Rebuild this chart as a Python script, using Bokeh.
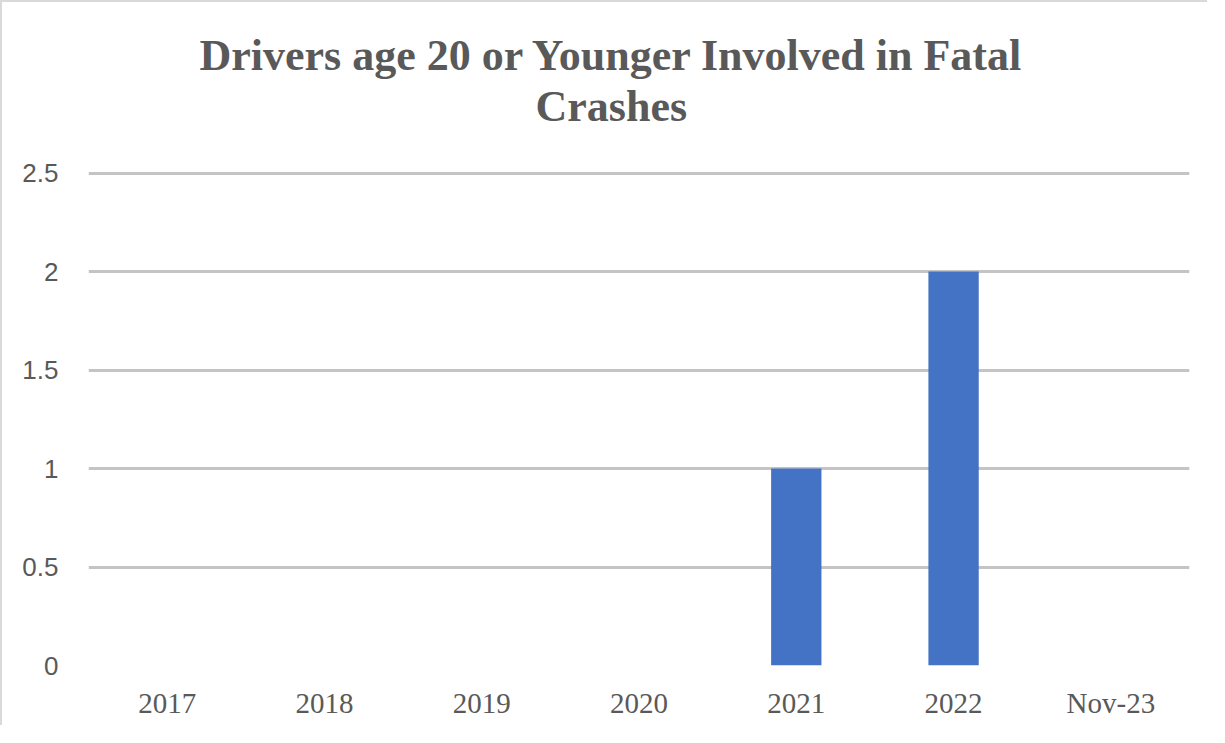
from bokeh.plotting import figure
from bokeh.models import FixedTicker, Title
from bokeh.embed import file_html
from bokeh.resources import INLINE

categories = ["2017", "2018", "2019", "2020", "2021", "2022", "Nov-23"]
values = [0, 0, 0, 0, 1, 2, 0]
y_ticks = [0, 0.5, 1, 1.5, 2, 2.5]
y_tick_labels = ["0", "0.5", "1", "1.5", "2", "2.5"]
title_lines = ["Drivers age 20 or Younger Involved in Fatal", "Crashes"]

p = figure(x_range=categories, y_range=(0, 2.508), width=1207, height=725,
           output_backend="svg", toolbar_location=None,
           min_border_left=86, min_border_right=20, min_border_bottom=62, min_border_top=169)
p.styles = {"border-top": "2px solid #d9d9d9", "border-left": "2px solid #d9d9d9"}
p.outline_line_color = None
p.x_range.range_padding = 0

p.vbar(x=categories, top=values, width=0.32, fill_color="#4472C4", line_color=None)

# titles: second line first (closest to frame)
t2 = Title(text=title_lines[1], align="left", offset=447, standoff=82,
           text_font="Liberation Serif", text_font_size="44px", text_font_style="bold",
           text_color="#595959")
t1 = Title(text=title_lines[0], align="left", offset=111, standoff=-82,
           text_font="Liberation Serif", text_font_size="44px", text_font_style="bold",
           text_color="#595959")
p.add_layout(t2, "above")
p.add_layout(t1, "above")

p.yaxis.ticker = FixedTicker(ticks=y_ticks)
p.yaxis.major_label_overrides = {t: l for t, l in zip(y_ticks, y_tick_labels)}
p.yaxis.axis_line_color = None
p.yaxis.major_tick_line_color = None
p.yaxis.minor_tick_line_color = None
p.yaxis.major_label_text_font = "Liberation Sans"
p.yaxis.major_label_text_font_size = "26px"
p.yaxis.major_label_text_color = "#595959"
p.yaxis.major_label_standoff = 24

p.xaxis.axis_line_color = None
p.xaxis.major_tick_line_color = None
p.xaxis.major_label_text_font = "Liberation Serif"
p.xaxis.major_label_text_font_size = "29px"
p.xaxis.major_label_text_color = "#595959"
p.xaxis.major_label_standoff = 15

p.xgrid.grid_line_color = None
p.ygrid.ticker = FixedTicker(ticks=y_ticks)
p.ygrid.grid_line_color = "#c4c4c4"
p.ygrid.grid_line_width = 3

open("out.html", "w").write(file_html(p, INLINE))
